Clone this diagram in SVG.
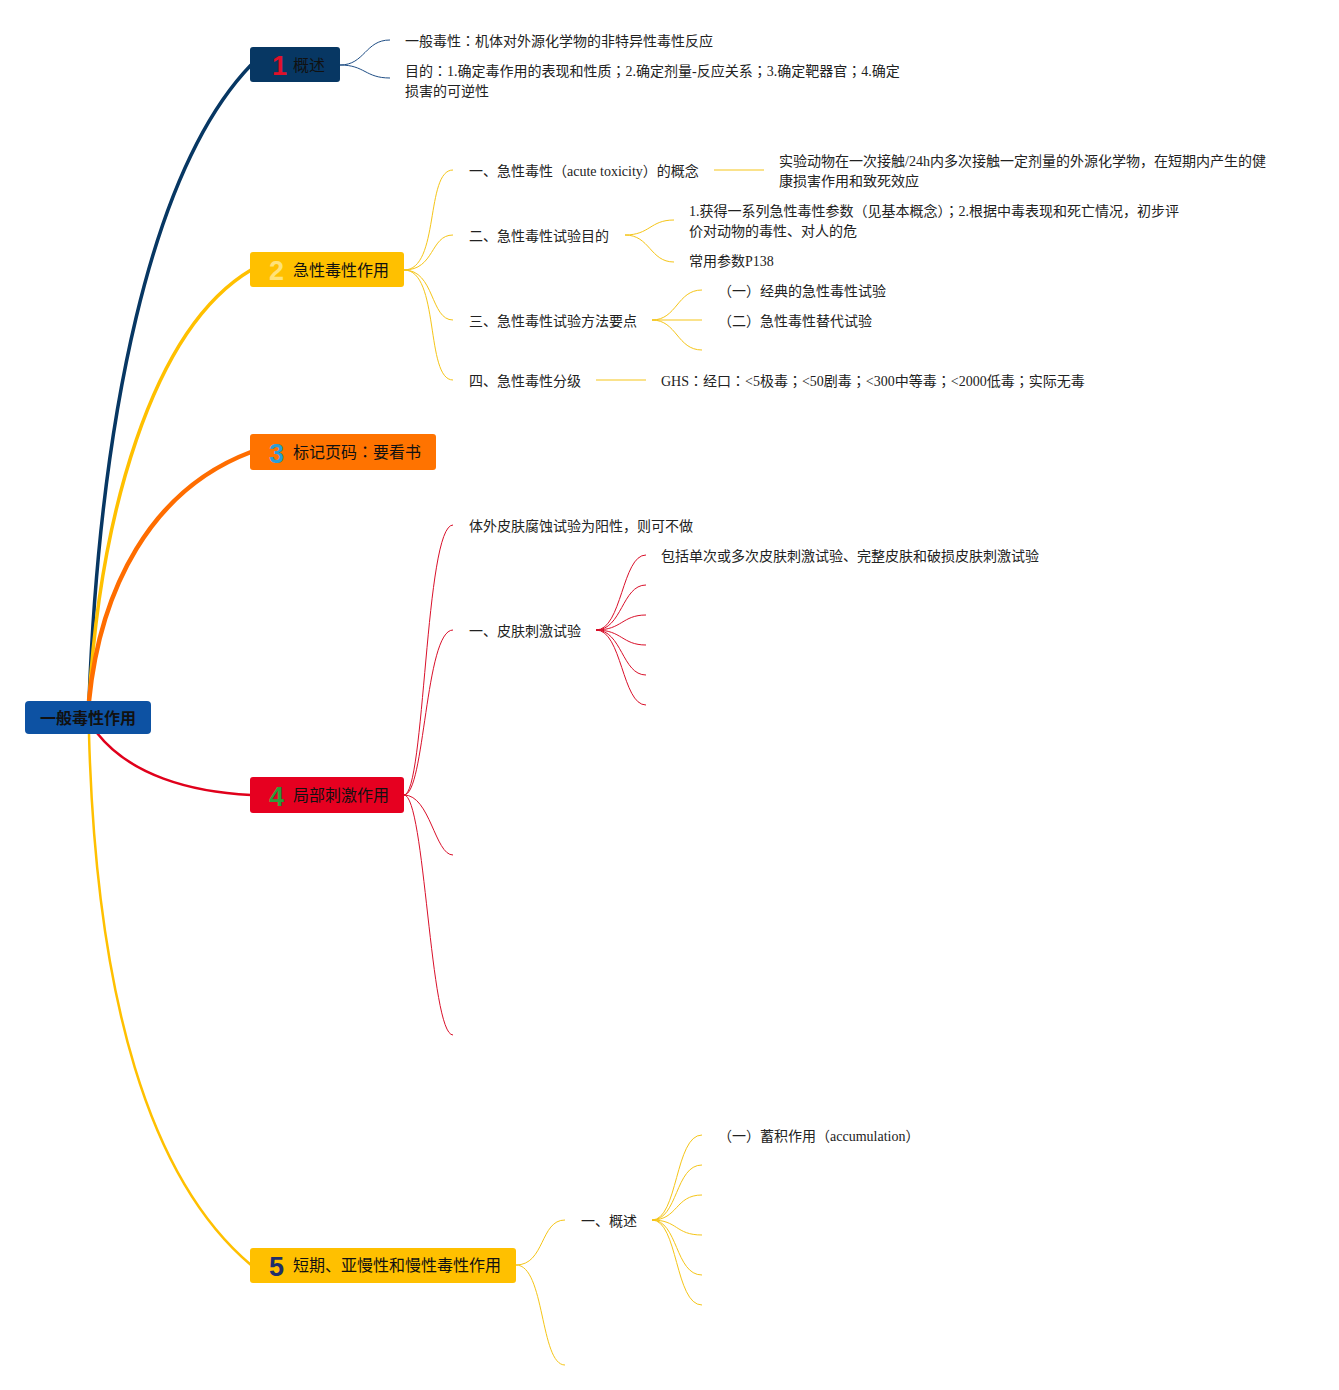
<svg xmlns="http://www.w3.org/2000/svg" width="1339" height="1390" viewBox="0 0 1339 1390">
<style>
.t{font-family:"Liberation Serif","Noto Sans CJK SC",serif;font-size:14px;fill:#222}
.m{font-family:"Noto Sans CJK SC","Liberation Sans",sans-serif;font-size:16px;fill:#111}
.p{font-family:"Noto Sans CJK TC",sans-serif}
.n{font-family:"Liberation Sans",Arial,sans-serif;font-size:27px;font-weight:bold}
.c1{fill:none;stroke:#1F4E85;stroke-width:1}
.c2{fill:none;stroke:#F5C518;stroke-width:1}
.c4{fill:none;stroke:#D9102A;stroke-width:1}
</style>
<rect width="1339" height="1390" fill="#fff"/>
<g id="connectors">
<path d="M89,701 C100,420 150,170 251,65" fill="none" stroke="#073763" stroke-width="3.5"/>
<path d="M89,701 C100,520 150,330 251,270" fill="none" stroke="#FFC000" stroke-width="3.5"/>
<path d="M89,701 C100,590 150,490 251,452" fill="none" stroke="#FF6D00" stroke-width="4.5"/>
<path d="M97,733 C130,775 190,792 251,795" fill="none" stroke="#E0001B" stroke-width="2.5"/>
<path d="M89,734 C96,1000 150,1180 251,1265" fill="none" stroke="#FFC000" stroke-width="2.5"/>
<path class="c1" d="M340,65 C365,65 365,40 390,40"/>
<path class="c1" d="M340,65 C365,65 365,78 390,78"/>
<path class="c2" d="M404,270 C440,270 425,170 453,170"/>
<path class="c2" d="M404,270 C435,270 430,235 453,235"/>
<path class="c2" d="M404,270 C435,270 430,320 453,320"/>
<path class="c2" d="M404,270 C440,270 425,380 453,380"/>
<path class="c2" d="M714,170 L764,170"/>
<path class="c2" d="M625,235 C650,235 650,220 674,220"/>
<path class="c2" d="M625,235 C650,235 650,262 674,262"/>
<path class="c2" d="M652,320 C677,320 677,290 702,290"/>
<path class="c2" d="M652,320 L702,320"/>
<path class="c2" d="M652,320 C677,320 677,350 702,350"/>
<path class="c2" d="M596,380 L646,380"/>
<path class="c4" d="M404,795 C425,795 425,525 453,525"/>
<path class="c4" d="M404,795 C425,795 425,630 453,630"/>
<path class="c4" d="M404,795 C430,795 435,855 453,855"/>
<path class="c4" d="M404,795 C425,795 430,1035 453,1035"/>
<path class="c4" d="M596,630 C622,630 622,555 646,555"/>
<path class="c4" d="M596,630 C622,630 622,585 646,585"/>
<path class="c4" d="M596,630 C622,630 622,615 646,615"/>
<path class="c4" d="M596,630 C622,630 622,645 646,645"/>
<path class="c4" d="M596,630 C622,630 622,675 646,675"/>
<path class="c4" d="M596,630 C622,630 622,705 646,705"/>
<path class="c2" d="M516,1265 C545,1265 540,1220 565,1220"/>
<path class="c2" d="M516,1265 C545,1265 540,1365 565,1365"/>
<path class="c2" d="M652,1220 C678,1220 675,1135 702,1135"/>
<path class="c2" d="M652,1220 C678,1220 675,1165 702,1165"/>
<path class="c2" d="M652,1220 C678,1220 675,1195 702,1195"/>
<path class="c2" d="M652,1220 C678,1220 675,1235 702,1235"/>
<path class="c2" d="M652,1220 C678,1220 675,1275 702,1275"/>
<path class="c2" d="M652,1220 C678,1220 675,1305 702,1305"/>
</g>
<g id="root">
<rect x="25" y="701" width="126" height="33" rx="4" fill="#0D52A3"/>
<text x="88" y="724" text-anchor="middle" class="m" style="font-weight:bold">一般毒性作用</text>
</g>
<g id="n1">
<rect x="250" y="47" width="90" height="35" rx="3" fill="#073763"/>
<text x="272" y="75" class="n" fill="#E0102A">1</text>
<text x="293" y="71" class="m" fill="#1a1a1a">概述</text>
</g>
<g id="n1a"><text x="405" y="46" class="t">一般毒性<tspan class="p">：</tspan>机体对外源化学物的非特异性毒性反应</text></g>
<g id="n1b"><text x="405" y="76" class="t">目的<tspan class="p">：</tspan>1.确定毒作用的表现和性质<tspan class="p">；</tspan>2.确定剂量-反应关系<tspan class="p">；</tspan>3.确定靶器官<tspan class="p">；</tspan>4.确定</text><text x="405" y="96" class="t">损害的可逆性</text></g>
<g id="n2">
<rect x="250" y="252" width="154" height="35" rx="3" fill="#FFC000"/>
<text x="269" y="280" class="n" fill="#FFE27A">2</text>
<text x="293" y="276" class="m">急性毒性作用</text>
</g>
<g id="n2a"><text x="469" y="176" class="t">一、急性毒性（acute toxicity）的概念</text></g>
<g id="n2a1"><text x="779" y="166" class="t">实验动物在一次接触/24h内多次接触一定剂量的外源化学物，在短期内产生的健</text><text x="779" y="186" class="t">康损害作用和致死效应</text></g>
<g id="n2b"><text x="469" y="241" class="t">二、急性毒性试验目的</text></g>
<g id="n2b1"><text x="689" y="216" class="t">1.获得一系列急性毒性参数（见基本概念）<tspan class="p">；</tspan>2.根据中毒表现和死亡情况，初步评</text><text x="689" y="236" class="t">价对动物的毒性、对人的危</text></g>
<g id="n2b2"><text x="689" y="266" class="t">常用参数P138</text></g>
<g id="n2c"><text x="469" y="326" class="t">三、急性毒性试验方法要点</text></g>
<g id="n2c1"><text x="718" y="296" class="t">（一）经典的急性毒性试验</text></g>
<g id="n2c2"><text x="718" y="326" class="t">（二）急性毒性替代试验</text></g>
<g id="n2d"><text x="469" y="386" class="t">四、急性毒性分级</text></g>
<g id="n2d1"><text x="661" y="386" class="t">GHS<tspan class="p">：</tspan>经口<tspan class="p">：</tspan>&lt;5极毒<tspan class="p">；</tspan>&lt;50剧毒<tspan class="p">；</tspan>&lt;300中等毒<tspan class="p">；</tspan>&lt;2000低毒<tspan class="p">；</tspan>实际无毒</text></g>
<g id="n3">
<rect x="250" y="434" width="186" height="36" rx="3" fill="#FF7300"/>
<text x="269" y="463" class="n" fill="#2A9ED8">3</text>
<text x="293" y="458" class="m">标记页码<tspan class="p">：</tspan>要看书</text>
</g>
<g id="n4">
<rect x="250" y="777" width="154" height="36" rx="3" fill="#E60020"/>
<text x="269" y="806" class="n" fill="#2E9B3A">4</text>
<text x="293" y="801" class="m">局部刺激作用</text>
</g>
<g id="n4a"><text x="469" y="531" class="t">体外皮肤腐蚀试验为阳性，则可不做</text></g>
<g id="n4b"><text x="469" y="636" class="t">一、皮肤刺激试验</text></g>
<g id="n4b1"><text x="661" y="561" class="t">包括单次或多次皮肤刺激试验、完整皮肤和破损皮肤刺激试验</text></g>
<g id="n5">
<rect x="250" y="1248" width="266" height="35" rx="3" fill="#FFC000"/>
<text x="269" y="1276" class="n" fill="#1F2F6B">5</text>
<text x="293" y="1271" class="m">短期、亚慢性和慢性毒性作用</text>
</g>
<g id="n5a"><text x="581" y="1226" class="t">一、概述</text></g>
<g id="n5a1"><text x="718" y="1141" class="t">（一）蓄积作用（accumulation）</text></g>
</svg>
